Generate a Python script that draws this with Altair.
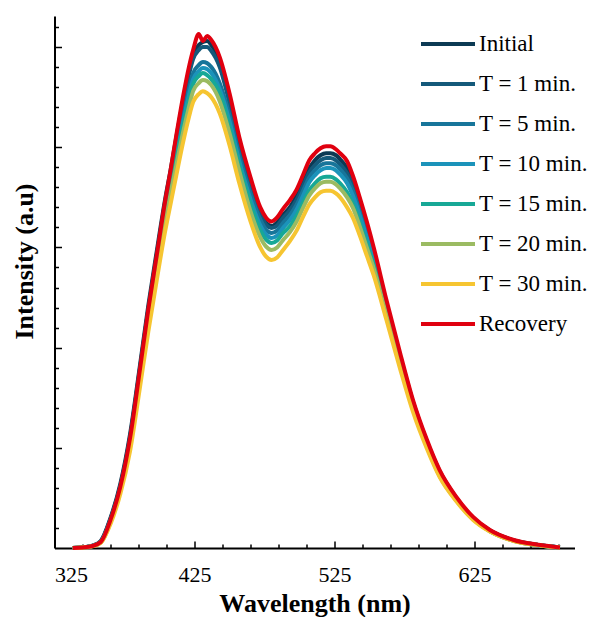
import altair as alt
import pandas as pd

# Wavelength grid (nm)
wavelength = [338, 345, 352, 358, 365, 372, 379, 386, 392, 398,
              404, 408, 412, 417, 421, 424,
              428, 431, 434, 437, 443, 450, 457,
              465, 472, 476, 480, 484, 488,
              493, 498, 503, 507, 511, 515, 519, 522, 526, 529, 534,
              538, 543, 548, 553,
              562, 572, 581, 591, 600, 612, 624, 636, 653, 672, 686]

initial = [0, .03, .12, .35, 1.5, 3.2, 5.7, 9.1, 12.1, 14.8,
           17.4, 18.9, 20.5, 22.4, 23.8, 24.6,
           25.1, 25.25, 25.3, 25.1, 24.3, 22.5, 20.3,
           18.3, 16.8, 16.25, 16.07, 16.25, 16.6,
           17.0, 17.6, 18.35, 18.95, 19.35, 19.6, 19.7, 19.7, 19.6, 19.4, 18.95,
           18.3, 17.2, 16.0, 14.75,
           12.2, 9.55, 7.3, 5.3, 3.85, 2.5, 1.5, 0.88, 0.38, 0.14, 0.03]
t1 = [0, .03, .1, .32, 1.45, 3.1, 5.55, 8.95, 11.9, 14.6,
      17.2, 18.7, 20.3, 22.2, 23.6, 24.4,
      24.85, 25.0, 25.0, 24.8, 24.0, 22.2, 20.1,
      18.1, 16.7, 16.15, 15.97, 16.1, 16.45,
      16.85, 17.4, 18.15, 18.75, 19.1, 19.35, 19.46, 19.46, 19.35, 19.15, 18.7,
      18.1, 17.05, 15.9, 14.65,
      12.15, 9.5, 7.25, 5.3, 3.8, 2.5, 1.5, 0.88, 0.38, 0.14, 0.03]
t5 = [0, .03, .1, .3, 1.4, 3.0, 5.4, 8.75, 11.7, 14.35,
      16.9, 18.3, 19.8, 21.6, 22.9, 23.7,
      24.1, 24.25, 24.2, 24.0, 23.2, 21.6, 19.6,
      17.7, 16.4, 15.9, 15.72, 15.85, 16.2,
      16.6, 17.15, 17.9, 18.5, 18.85, 19.1, 19.2, 19.2, 19.1, 18.9, 18.45,
      17.85, 16.8, 15.7, 14.5,
      12.0, 9.4, 7.15, 5.2, 3.75, 2.45, 1.48, 0.86, 0.37, 0.14, 0.03]
t10 = [0, .03, .1, .3, 1.35, 2.95, 5.3, 8.6, 11.5, 14.15,
       16.7, 18.1, 19.6, 21.3, 22.6, 23.4,
       23.8, 23.95, 23.9, 23.7, 22.9, 21.3, 19.3,
       17.4, 16.1, 15.65, 15.47, 15.6, 15.95,
       16.35, 16.9, 17.65, 18.25, 18.6, 18.85, 18.96, 18.96, 18.85, 18.65, 18.2,
       17.6, 16.6, 15.5, 14.35,
       11.9, 9.3, 7.1, 5.15, 3.7, 2.42, 1.46, 0.85, 0.37, 0.13, 0.03]
t15 = [0, .03, .1, .28, 1.3, 2.9, 5.2, 8.5, 11.35, 14.0,
       16.5, 17.9, 19.4, 21.1, 22.35, 23.15,
       23.55, 23.7, 23.6, 23.4, 22.7, 21.0, 19.1,
       17.2, 15.85, 15.4, 15.22, 15.35, 15.7,
       16.05, 16.6, 17.3, 17.85, 18.2, 18.45, 18.53, 18.53, 18.4, 18.2, 17.75,
       17.2, 16.25, 15.2, 14.1,
       11.75, 9.2, 7.0, 5.1, 3.65, 2.4, 1.45, 0.84, 0.36, 0.13, 0.03]
t20 = [0, .03, .1, .28, 1.3, 2.85, 5.1, 8.35, 11.2, 13.8,
       16.3, 17.7, 19.1, 20.8, 22.0, 22.8,
       23.2, 23.35, 23.3, 23.1, 22.3, 20.7, 18.8,
       16.8, 15.5, 15.05, 14.87, 15.0, 15.35,
       15.75, 16.3, 17.05, 17.6, 17.95, 18.2, 18.28, 18.28, 18.15, 17.95, 17.5,
       17.0, 16.05, 15.0, 13.95,
       11.65, 9.1, 6.95, 5.05, 3.6, 2.37, 1.43, 0.83, 0.36, 0.13, 0.03]
t30 = [0, .02, .08, .25, 1.2, 2.7, 4.85, 8.0, 10.8, 13.35,
       15.8, 17.2, 18.6, 20.3, 21.5, 22.25,
       22.65, 22.8, 22.7, 22.5, 21.7, 20.1, 18.2,
       16.3, 15.0, 14.55, 14.37, 14.5, 14.85,
       15.3, 15.85, 16.6, 17.15, 17.5, 17.75, 17.83, 17.83, 17.7, 17.5, 17.0,
       16.5, 15.6, 14.6, 13.6,
       11.4, 8.9, 6.8, 4.95, 3.55, 2.33, 1.4, 0.82, 0.35, 0.13, 0.03]
recovery = [0, .03, .1, .3, 1.4, 3.05, 5.5, 8.9, 11.9, 14.6,
            17.3, 18.9, 20.6, 22.6, 24.0, 24.85,
            25.65, 25.3, 25.55, 25.35, 24.5, 22.7, 20.5,
            18.5, 17.0, 16.5, 16.3, 16.5, 16.9,
            17.35, 17.9, 18.7, 19.35, 19.7, 19.95, 20.05, 20.05, 19.9, 19.7, 19.3,
            18.6, 17.5, 16.3, 15.0,
            12.4, 9.7, 7.4, 5.4, 3.9, 2.55, 1.55, 0.9, 0.4, 0.15, 0.03]

series_names = ["Initial", "T = 1 min.", "T = 5 min.", "T = 10 min.",
                "T = 15 min.", "T = 20 min.", "T = 30 min.", "Recovery"]
series_values = [initial, t1, t5, t10, t15, t20, t30, recovery]
colors = ["#0c3a54", "#14597a", "#17759a", "#1b93ba",
          "#17a896", "#9bbb62", "#f6c531", "#e0000f"]

x_labels = [325, 425, 525, 625]
x_ticks = list(range(345, 700, 20))
y_ticks = list(range(1, 27))

rows = []
for k, (name, vals) in enumerate(zip(series_names, series_values)):
    for w, v in zip(wavelength, vals):
        rows.append({"wavelength": w, "intensity": v, "series": name, "k": k})
df = pd.DataFrame(rows)

W, H = 520, 532
FONT = "Liberation Serif"
xscale = alt.Scale(domain=[325, 696.4], nice=False, zero=False)
yscale = alt.Scale(domain=[0, 26.55], nice=False, zero=False)

lines = alt.Chart(df).mark_line(strokeWidth=4, interpolate="monotone").encode(
    x=alt.X("wavelength:Q", scale=xscale,
            axis=alt.Axis(orient="bottom", values=x_labels, ticks=False, grid=False,
                          domainColor="black", domainWidth=2,
                          labelFont=FONT, labelFontSize=22, labelColor="black",
                          labelPadding=16, title="Wavelength (nm)", titleFont=FONT,
                          titleFontSize=26, titleFontWeight="bold", titleColor="black",
                          titlePadding=5)),
    y=alt.Y("intensity:Q", scale=yscale,
            axis=alt.Axis(orient="left", labels=False, ticks=False, grid=False,
                          domainColor="black", domainWidth=2,
                          title="Intensity (a.u)", titleFont=FONT, titleFontSize=26,
                          titleFontWeight="bold", titleColor="black", titlePadding=17,
                          titleY=245)),
    color=alt.Color("series:N",
                    scale=alt.Scale(domain=series_names, range=colors),
                    legend=alt.Legend(orient="none", legendX=381.5, legendY=16,
                                      title=None, padding=0,
                                      symbolType="M-2.7,0H2.7", symbolSize=400,
                                      symbolStrokeWidth=4, labelFont=FONT,
                                      labelFontSize=23, labelColor="black",
                                      labelOffset=19, rowPadding=16)),
    order=alt.Order("k:Q"),
)

ticks = alt.Chart(df).mark_line(opacity=0).encode(
    x=alt.X("wavelength:Q", scale=xscale,
            axis=alt.Axis(orient="top", offset=-H, values=x_ticks, labels=False,
                          domain=False, grid=False, title="", tickColor="black",
                          tickWidth=1.5,
                          tickSize={"condition": {"test": "(datum.value - 25) % 100 == 0",
                                                  "value": 7}, "value": 4})),
    y=alt.Y("intensity:Q", scale=yscale,
            axis=alt.Axis(orient="right", offset=-W, values=y_ticks, labels=False,
                          domain=False, grid=False, title="", tickColor="black",
                          tickWidth=1.5,
                          tickSize={"condition": {"test": "datum.value % 5 == 0",
                                                  "value": 7}, "value": 4})),
    detail="series:N",
)

chart = alt.layer(lines, ticks).resolve_axis(
    x="independent", y="independent"
).properties(
    width=W, height=H, autosize="none",
    padding={"left": 46.5, "top": 8, "right": 14, "bottom": 69},
).configure_view(stroke=None)

chart.save("out.html", embed_options={"renderer": "svg", "actions": False})
